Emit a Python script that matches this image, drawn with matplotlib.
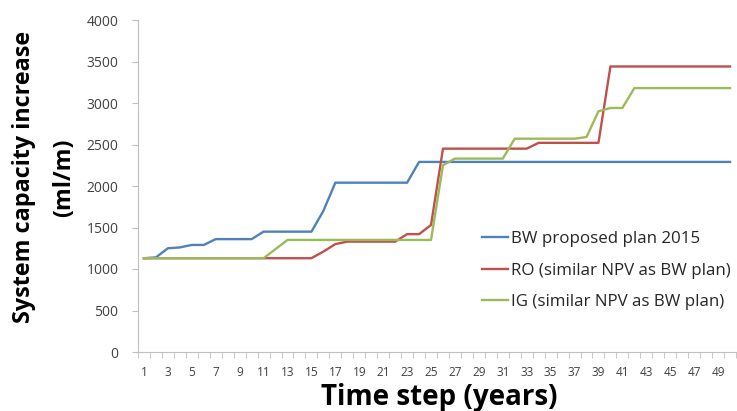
import matplotlib
matplotlib.use("Agg")
import matplotlib.pyplot as plt

steps = list(range(1, 51))
bw = [1130, 1140, 1250, 1260, 1290, 1290, 1360, 1360, 1360, 1360,
      1450, 1450, 1450, 1450, 1450, 1700, 2040, 2040, 2040, 2040,
      2040, 2040, 2040, 2290] + [2290] * 26
ro = [1130] * 15 + [1210, 1300, 1330, 1330, 1330, 1330, 1330, 1420, 1420, 1530,
      2450, 2450, 2450, 2450, 2450, 2450, 2450, 2450, 2520, 2520,
      2520, 2520, 2520, 2520, 3440] + [3440] * 10
ig = [1130] * 11 + [1240] + [1350] * 13 + [2250, 2330, 2330, 2330, 2330, 2330,
      2570, 2570, 2570, 2570, 2570, 2570, 2590, 2900, 2940, 2940, 3180] + [3180] * 8
labels = ["BW proposed plan 2015", "RO (similar NPV as BW plan)", "IG (similar NPV as BW plan)"]
colors = ["#4F81BD", "#C0504D", "#9BBB59"]
yticks = [0, 500, 1000, 1500, 2000, 2500, 3000, 3500, 4000]

W, H = 737, 411
plt.rcParams['font.family'] = ['Open Sans', 'DejaVu Sans']
fig = plt.figure(figsize=(W/100, H/100), dpi=100)
ax = fig.add_axes([138/W, 1 - 352/H, (736-138)/W, (352-20)/H])

for s, lab, c in zip([bw, ro, ig], labels, colors):
    ax.plot(steps, s, color=c, lw=1.7, label=lab)

ax.set_xlim(0.5, 50.5)
ax.set_ylim(0, 4000)
ax.set_yticks(yticks)
ax.set_xticks(range(1, 50, 2))
ax.set_xticks([i + 0.5 for i in range(0, 51)], minor=True)
ax.tick_params(axis='x', which='major', length=0, labelsize=8.5, pad=10, colors='#404040')
ax.tick_params(axis='x', which='minor', length=4, color='#BFBFBF')
ax.tick_params(axis='y', length=4, color='#BFBFBF', labelsize=10, colors='#404040', pad=10)
for sp in ['top', 'right']:
    ax.spines[sp].set_visible(False)
for sp in ['left', 'bottom']:
    ax.spines[sp].set_color('#BFBFBF')

fig.text(439/W, 1 - 397/H, "Time step (years)", fontsize=20, fontweight='bold',
         ha='center', va='center', color='black')
fig.text(24/W, 1 - 177/H, "System capacity increase", fontsize=16.8, fontweight='bold',
         rotation=90, ha='center', va='center', color='black')
fig.text(64/W, 1 - 178/H, "(ml/m)", fontsize=16.8, fontweight='bold',
         rotation=90, ha='center', va='center', color='black')

leg = ax.legend(loc='upper left', bbox_to_anchor=((482-138)/598, (352-231)/332), frameon=False,
                fontsize=12.2, handlelength=1.55, handletextpad=0.15, labelspacing=0.92,
                borderpad=0, borderaxespad=0)
for t in leg.get_texts():
    t.set_color('#262626')

fig.savefig("out.png", dpi=100)
